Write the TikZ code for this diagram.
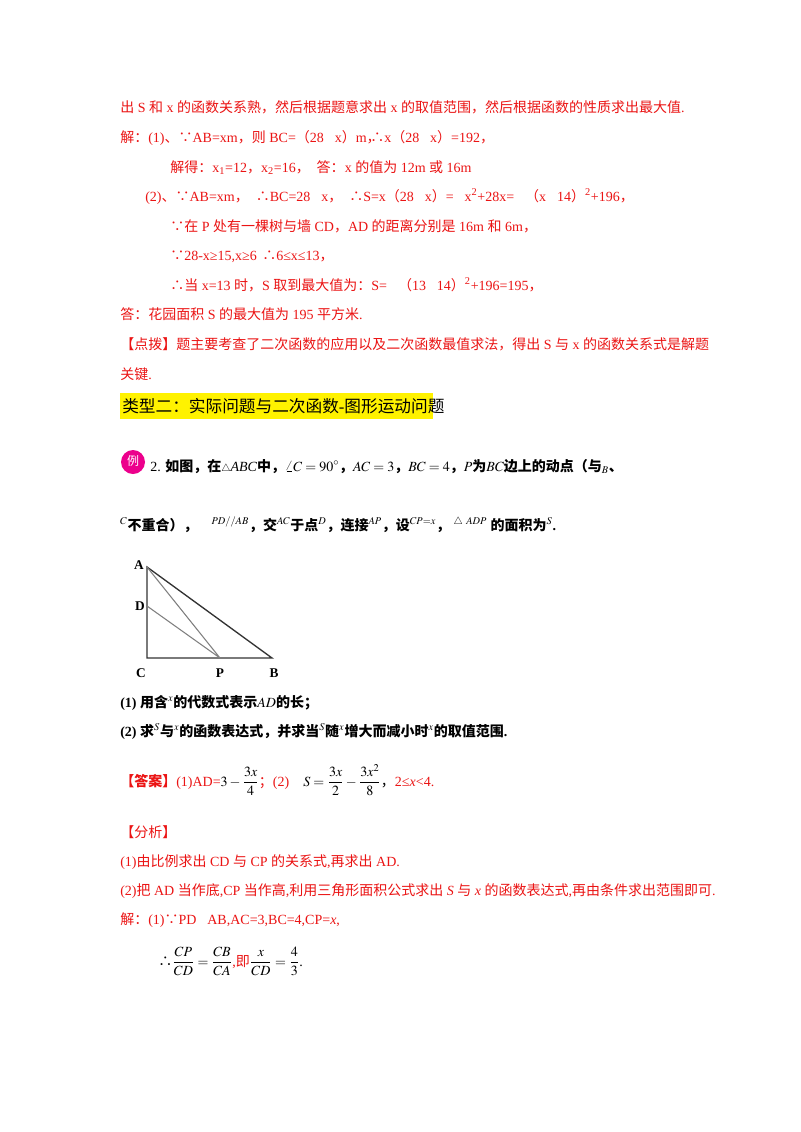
\documentclass[tikz,border=0pt]{standalone}
\usepackage{amsmath}
\usepackage{mathptmx}
\usepackage{fontspec}
\setmainfont{Liberation Serif}
\newfontfamily\cjk{Noto Sans CJK SC}
\XeTeXinterchartokenstate=1
\newXeTeXintercharclass\cjkcls
\count255="3000
\loop \XeTeXcharclass\count255=\cjkcls \ifnum\count255<"9FFF \advance\count255 1 \repeat
\count255="FF00
\loop \XeTeXcharclass\count255=\cjkcls \ifnum\count255<"FFEF \advance\count255 1 \repeat
\XeTeXcharclass"2234=\cjkcls
\XeTeXcharclass"2235=\cjkcls
\XeTeXinterchartoks 0 \cjkcls={\begingroup\cjk}
\XeTeXinterchartoks 4095 \cjkcls={\begingroup\cjk}
\XeTeXinterchartoks \cjkcls 0={\endgroup}
\XeTeXinterchartoks \cjkcls 4095={\endgroup}
\definecolor{rd}{RGB}{235,20,20}
\begin{document}
\begin{tikzpicture}[x=0.75pt,y=-0.75pt,
  t/.style={anchor=base west,inner sep=0pt,font=\fontsize{10.5}{12}\selectfont},
  r/.style={t,text=rd},
  b/.style={t,font=\fontsize{10.5}{12}\selectfont\bfseries},
  lbl/.style={inner sep=0pt,font=\fontsize{10}{12}\selectfont\bfseries}]
\useasboundingbox[fill=white] (0,0) rectangle (800,1132);
\node[r] (l1) at (120,112) {出 S 和 x 的函数关系熟，然后根据题意求出 x 的取值范围，然后根据函数的性质求出最大值.};
\node[r] (l2) at (120,142) {解：(1)、∵AB=xm，则 BC=（28﹣x）m，};
\node[r] (l2b) at (370,142) {∴x（28﹣x）=192，};
\node[r] (l3) at (170,172) {解得：x\textsubscript{1}=12，x\textsubscript{2}=16，\ \ 答：x 的值为 12m 或 16m};
\node[r] (l4) at (145,201) {(2)、∵AB=xm，\ \ ∴BC=28﹣x，\ \ ∴S=x（28﹣x）=﹣x\textsuperscript{2}+28x=﹣（x﹣14）\textsuperscript{2}+196，};
\node[r] (l5) at (170,231) {∵在 P 处有一棵树与墙 CD，AD 的距离分别是 16m 和 6m，};
\node[r] (l6) at (170,260) {∵28-x≥15,x≥6};
\node[r] (l6b) at (262,260) {∴6≤x≤13，};
\node[r] (l7) at (170,290) {∴当 x=13 时，S 取到最大值为：S=﹣（13﹣14）\textsuperscript{2}+196=195，};
\node[r] (l8) at (120,319) {答：花园面积 S 的最大值为 195 平方米.};
\node[r] (l9) at (120,349) {【点拨】题主要考查了二次函数的应用以及二次函数最值求法，得出 S 与 x 的函数关系式是解题};
\node[r] (l10) at (120,379) {关键.};
\fill[yellow] (120,393) rectangle (433,419);
\node[t,font=\fontsize{12.5}{14}\selectfont] (h) at (122,412) {类型二：实际问题与二次函数-图形运动问题};
\fill[magenta] (133,462) circle (12);
\node[inner sep=0pt,text=white,font=\fontsize{9}{10}\selectfont] (li) at (133,461) {例};
\node[b] (q1) at (150,471) {\textmd{2.} 如图，在$\scriptstyle\triangle$\textit{\textmd{ABC}}中，$\angle C=90^\circ$，$AC=3$，$BC=4$，$P$为$BC$边上的动点（与$_B$、};
\node[b] (q2) at (120,530) {$^C$不重合），\ \ \ \ $^{PD//AB}$，交$^{AC}$于点$^D$，连接$^{AP}$，设$^{CP=x}$，\ $^{\triangle\ ADP}$\ 的面积为$^S$.};
\coordinate (A) at (147,567); \coordinate (D) at (147,606);
\coordinate (C) at (147,658); \coordinate (P) at (220,658); \coordinate (B) at (272,658);
\draw[line width=1pt,black!80] (A) -- (C) -- (B) -- cycle;
\draw[gray,line width=0.8pt] (A) -- (P) (D) -- (P);
\node[lbl] (la) at (139,565) {A};
\node[lbl] (ld) at (140,606) {D};
\node[lbl] (lc) at (141,673) {C};
\node[lbl] (lp) at (220,673) {P};
\node[lbl] (lb) at (274,673) {B};
\node[b] (p1) at (120,707) {(1) 用含$^x$的代数式表示$AD$的长；};
\node[b] (p2) at (120,736) {(2) 求$^S$与$^x$的函数表达式，并求当$^S$随$^x$增大而减小时$^x$的取值范围.};
\node[t] (ans) at (120,786) {\textcolor{rd}{\textbf{【答案】}(1)AD=}$3-\dfrac{3x}{4}$\textcolor{rd}{；(2)}\quad$S=\dfrac{3x}{2}-\dfrac{3x^2}{8}$，\textcolor{rd}{2≤\textit{x}<4.}};
\node[r] (f1) at (120,837) {【分析】};
\node[r] (f2) at (120,866) {(1)由比例求出 CD 与 CP 的关系式,再求出 AD.};
\node[r] (f3) at (120,895) {(2)把 AD 当作底,CP 当作高,利用三角形面积公式求出 \textit{S} 与 \textit{x} 的函数表达式,再由条件求出范围即可.};
\node[r] (f4) at (120,924) {解：(1)∵PD∥AB,AC=3,BC=4,CP=\textit{x},};
\node[t] (f5) at (158,966) {∴$\dfrac{CP}{CD}=\dfrac{CB}{CA}$\textcolor{rd}{,即}$\dfrac{x}{CD}=\dfrac{4}{3}$.};
\end{tikzpicture}
\end{document}
